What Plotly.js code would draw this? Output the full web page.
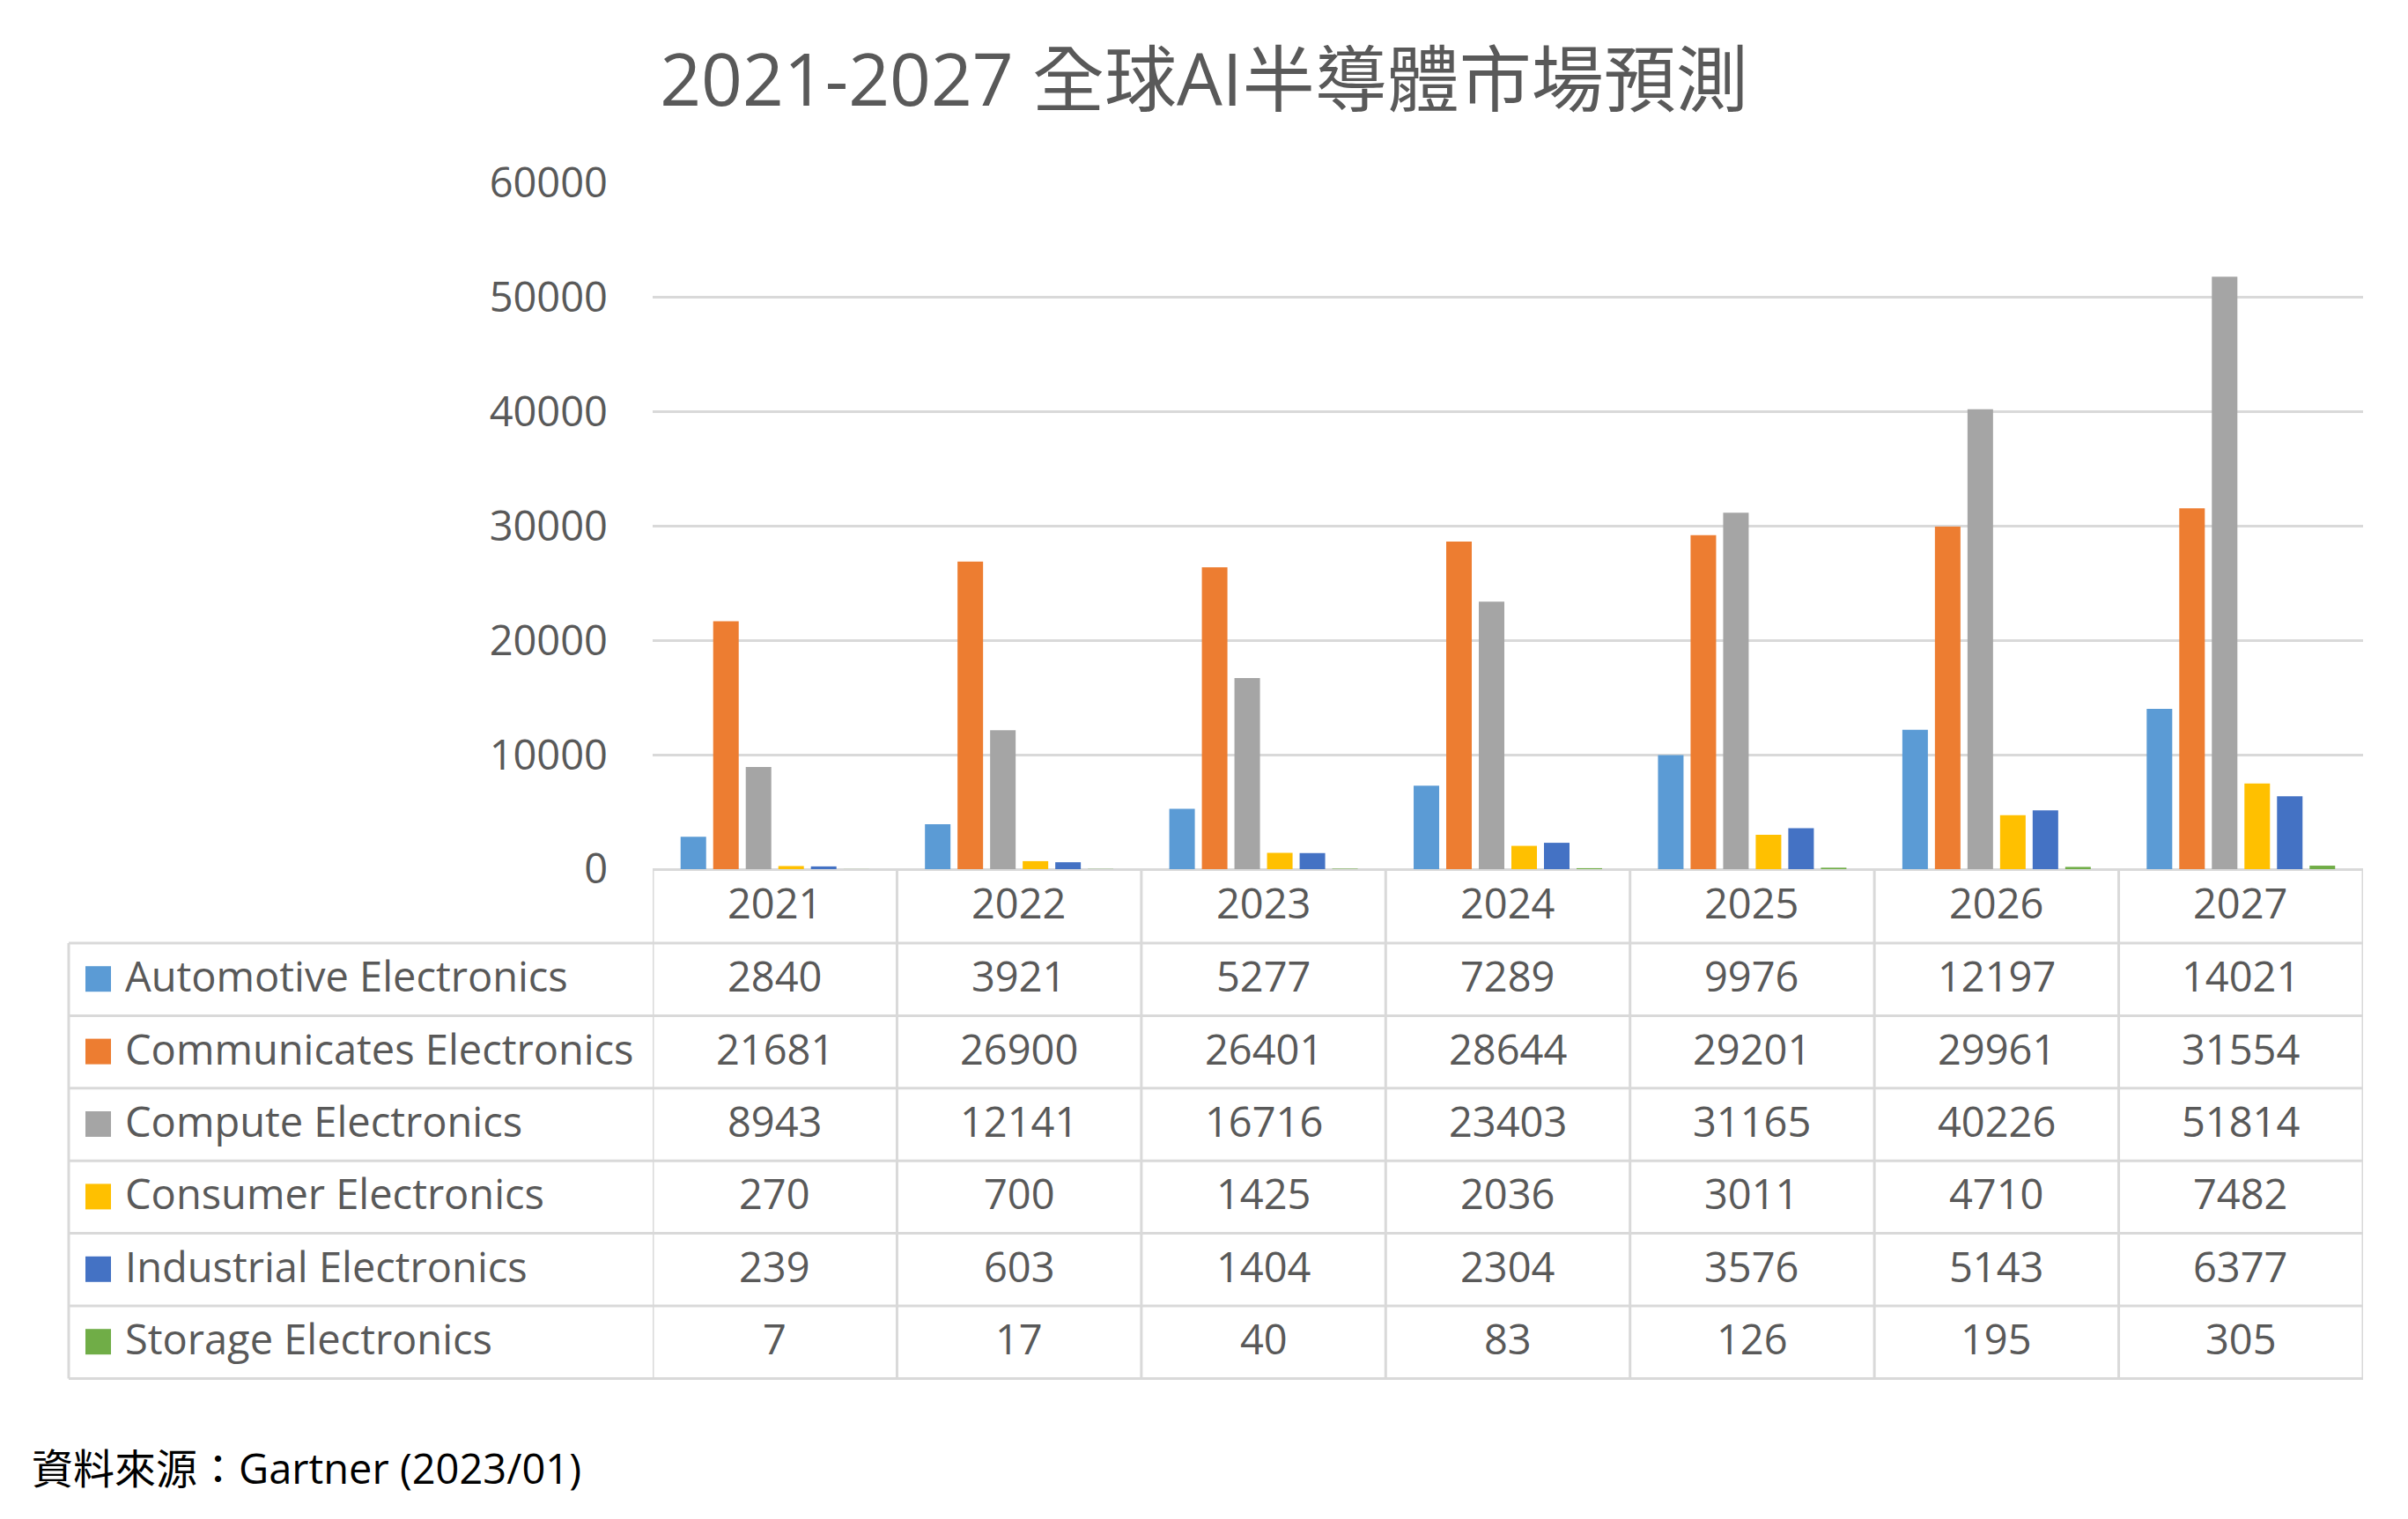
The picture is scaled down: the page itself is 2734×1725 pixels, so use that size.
<!DOCTYPE html>
<html>
<head>
<meta charset="utf-8">
<script src="https://cdn.plot.ly/plotly-3.0.1.min.js"></script>
<style>
  html, body { margin: 0; padding: 0; background: #ffffff; }
  #chart { width: 2734px; height: 1725px; }
</style>
</head>
<body>
<div id="chart"></div>
<script>
// ---------------- data ----------------
const years = ['2021', '2022', '2023', '2024', '2025', '2026', '2027'];
const seriesNames = [
  'Automotive Electronics',
  'Communicates Electronics',
  'Compute Electronics',
  'Consumer Electronics',
  'Industrial Electronics',
  'Storage Electronics'
];
const automotive   = [2840, 3921, 5277, 7289, 9976, 12197, 14021];
const communicates = [21681, 26900, 26401, 28644, 29201, 29961, 31554];
const compute      = [8943, 12141, 16716, 23403, 31165, 40226, 51814];
const consumer     = [270, 700, 1425, 2036, 3011, 4710, 7482];
const industrial   = [239, 603, 1404, 2304, 3576, 5143, 6377];
const storage      = [7, 17, 40, 83, 126, 195, 305];
const yTickVals    = [0, 10000, 20000, 30000, 40000, 50000, 60000];
const titleText    = '2021-2027 全球AI半導體市場預測';
const sourceText   = '資料來源：Gartner (2023/01)';

const seriesValues = [automotive, communicates, compute, consumer, industrial, storage];
const colors = ['#5B9BD5', '#ED7D31', '#A5A5A5', '#FFC000', '#4472C4', '#70AD47'];

// ---------------- layout geometry (pixels) ----------------
const W = 2734, H = 1725;
const plotL = 741, plotR = 2683, plotT = 208, plotB = 987;
const plotW = plotR - plotL, plotH = plotB - plotT;
const px = X => (X - plotL) / plotW;      // pixel x -> paper x
const py = Y => (plotB - Y) / plotH;      // pixel y -> paper y

const headerH = 84, rowH = 82.4;
const tableLeft = 78;
const textLift = 4;                        // optical centring of text in cells
const rowTop = i => plotB + headerH + i * rowH;   // top of data row i
const tableBottom = rowTop(seriesNames.length);

const textColor = '#595959';
const lineColor = '#D9D9D9';
const latinFont = "'Open Sans', 'Noto Sans CJK TC', sans-serif";
const fs = 47;

// ---------------- traces ----------------
const traces = seriesNames.map((name, s) => ({
  type: 'bar',
  name: name,
  x: years,
  y: seriesValues[s],
  marker: { color: colors[s], line: { width: 0 } },
  showlegend: false,
  hoverinfo: 'x+y+name'
}));

// ---------------- table shapes ----------------
const shapes = [];
const lineStyle = { color: lineColor, width: 3 };
// horizontal row lines
for (let i = 0; i <= seriesNames.length; i++) {
  const Y = rowTop(i);
  shapes.push({ type: 'line', xref: 'paper', yref: 'paper',
    x0: px(tableLeft), x1: 1, y0: py(Y), y1: py(Y), line: lineStyle, layer: 'below' });
}
// vertical column lines along the category axis (category index scale)
for (let k = 0; k <= years.length; k++) {
  shapes.push({ type: 'line', xref: 'x', yref: 'paper',
    x0: k - 0.5, x1: k - 0.5, y0: 0, y1: py(tableBottom), line: lineStyle, layer: 'below' });
}
// left border of legend column
shapes.push({ type: 'line', xref: 'paper', yref: 'paper',
  x0: px(tableLeft), x1: px(tableLeft), y0: py(rowTop(0)), y1: py(tableBottom), line: lineStyle, layer: 'below' });
// legend colour keys
seriesNames.forEach((name, s) => {
  const cy = rowTop(s) + rowH / 2;
  shapes.push({ type: 'rect', xref: 'paper', yref: 'paper',
    x0: px(97), x1: px(126), y0: py(cy - 15), y1: py(cy + 14),
    fillcolor: colors[s], line: { width: 0 } });
});

// ---------------- table text ----------------
const annotations = [];
const textFont = { family: latinFont, size: fs, color: textColor };
years.forEach((yr, i) => {
  annotations.push({ xref: 'x', yref: 'paper', x: i, y: py(plotB + headerH / 2 - textLift),
    text: yr, showarrow: false, xanchor: 'center', yanchor: 'middle', font: textFont });
});
seriesNames.forEach((name, s) => {
  const cy = rowTop(s) + rowH / 2 - textLift;
  annotations.push({ xref: 'paper', yref: 'paper', x: px(140), y: py(cy),
    text: name, showarrow: false, xanchor: 'left', yanchor: 'middle', font: textFont });
  years.forEach((yr, i) => {
    annotations.push({ xref: 'x', yref: 'paper', x: i, y: py(cy),
      text: String(seriesValues[s][i]), showarrow: false, xanchor: 'center', yanchor: 'middle', font: textFont });
  });
});
// source note
annotations.push({ xref: 'paper', yref: 'paper', x: px(34), y: py(1667),
  text: sourceText, showarrow: false, xanchor: 'left', yanchor: 'middle',
  font: { family: latinFont, size: 47, color: '#000000' } });

// ---------------- layout ----------------
const layout = {
  width: W, height: H,
  autosize: false,
  paper_bgcolor: '#ffffff',
  plot_bgcolor: '#ffffff',
  margin: { l: plotL, r: W - plotR, t: plotT, b: H - plotB, pad: 0 },
  title: {
    text: titleText,
    x: 0.5, xref: 'container', xanchor: 'center',
    y: 1 - 91 / H, yref: 'container', yanchor: 'middle',
    font: { family: latinFont, size: 82, color: textColor }
  },
  barmode: 'group',
  bargap: 0.2,
  bargroupgap: 0.216,
  xaxis: {
    type: 'category',
    categoryorder: 'array', categoryarray: years,
    showgrid: false, showline: false, zeroline: false,
    showticklabels: false, ticks: '',
    range: [-0.5, years.length - 0.5],
    fixedrange: true
  },
  yaxis: {
    range: [0, 60000],
    tickmode: 'array', tickvals: yTickVals, ticktext: yTickVals.map(String),
    showgrid: true, gridcolor: lineColor, gridwidth: 3,
    zeroline: true, zerolinecolor: lineColor, zerolinewidth: 3,
    showline: false, ticks: '',
    ticklabelstandoff: 50,
    tickfont: { family: latinFont, size: fs, color: textColor },
    fixedrange: true
  },
  shapes: shapes,
  annotations: annotations
};

Plotly.newPlot('chart', traces, layout, { displayModeBar: false, staticPlot: true });
</script>
</body>
</html>
